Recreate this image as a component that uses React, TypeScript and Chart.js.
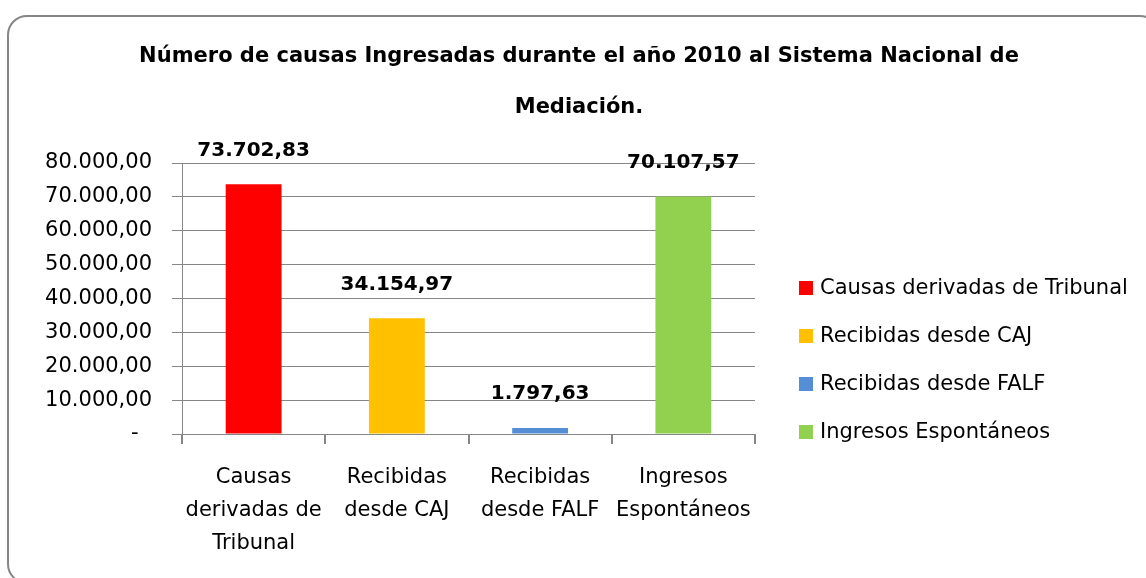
import React, { useEffect, useRef } from "react";
import { Chart, registerables } from "chart.js";

Chart.register(...registerables);

const titleLines = [
  "Número de causas Ingresadas durante el año 2010 al Sistema Nacional de",
  "Mediación.",
];
const categories = [
  "Causas derivadas de Tribunal",
  "Recibidas desde CAJ",
  "Recibidas desde FALF",
  "Ingresos Espontáneos",
];
const tickLabels = [
  ["Causas", "derivadas de", "Tribunal"],
  ["Recibidas", "desde CAJ"],
  ["Recibidas", "desde FALF"],
  ["Ingresos", "Espontáneos"],
];
const values = [73702.83, 34154.97, 1797.63, 70107.57];
const barColors = ["#FF0000", "#FFC000", "#558ED5", "#92D050"];
const yMin = 0;
const yMax = 80000;
const yStep = 10000;

const FONT = "'DejaVu Sans', sans-serif";

function fmt(v: number): string {
  const [i, d] = Math.abs(v).toFixed(2).split(".");
  return i.replace(/\B(?=(\d{3})+(?!\d))/g, ".") + "," + d;
}

const dataLabelPlugin = {
  id: "dataLabels",
  afterDatasetsDraw(chart: any) {
    const { ctx } = chart;
    const meta = chart.getDatasetMeta(0);
    const ds = chart.data.datasets[0].data as number[];
    ctx.save();
    ctx.font = `bold 20px ${FONT}`;
    ctx.fillStyle = "#000";
    ctx.textAlign = "center";
    ctx.textBaseline = "middle";
    meta.data.forEach((bar: any, i: number) => {
      ctx.fillText(fmt(ds[i]), bar.x, bar.y - 34);
    });
    ctx.restore();
  },
};

const sideLegendPlugin = {
  id: "sideLegend",
  afterDraw(chart: any) {
    const { ctx, chartArea } = chart;
    const x = chartArea.right + 44;
    const rowGap = 48;
    const centerY = 360;
    const n = categories.length;
    ctx.save();
    ctx.font = `21px ${FONT}`;
    ctx.textAlign = "left";
    ctx.textBaseline = "middle";
    categories.forEach((c, i) => {
      const y = centerY + (i - (n - 1) / 2) * rowGap;
      ctx.fillStyle = barColors[i];
      ctx.fillRect(x, y - 7, 14, 14);
      ctx.fillStyle = "#000";
      ctx.fillText(c, x + 21, y + 1);
    });
    ctx.restore();
  },
};

export default function App() {
  const ref = useRef<HTMLCanvasElement | null>(null);

  useEffect(() => {
    if (!ref.current) return;
    Chart.defaults.font.family = FONT;
    Chart.defaults.color = "#000";
    const chart = new Chart(ref.current, {
      type: "bar",
      data: {
        labels: tickLabels as any,
        datasets: [
          {
            label: "Causas",
            data: values,
            backgroundColor: barColors,
            borderWidth: 0,
            barPercentage: 0.39,
            categoryPercentage: 1,
          },
        ],
      },
      options: {
        responsive: false,
        animation: false,
        devicePixelRatio: 1,
        layout: { padding: { left: 12, right: 0, top: 0, bottom: 0 } },
        plugins: {
          legend: { display: false },
          tooltip: { enabled: false },
          title: {
            display: true,
            text: titleLines,
            color: "#000",
            font: { family: FONT, size: 21, weight: "bold", lineHeight: 51 / 21 },
            padding: { top: 31.5, bottom: 29.5 },
          },
        },
        scales: {
          x: {
            grid: {
              display: true,
              drawOnChartArea: false,
              drawTicks: true,
              tickLength: 10,
              color: "#868686",
              lineWidth: 2,
              offset: true,
            },
            border: { display: true, color: "#868686", width: 1 },
            ticks: {
              padding: 17,
              color: "#000",
              font: { family: FONT, size: 21, lineHeight: 33 / 21 },
              maxRotation: 0,
              autoSkip: false,
            },
            afterFit: (s: any) => {
              s.height = 144;
            },
          },
          y: {
            min: yMin,
            max: yMax,
            ticks: {
              stepSize: yStep,
              padding: 20,
              color: "#000",
              font: { family: FONT, size: 21 },
              callback: (v: any) => (Number(v) === 0 ? "-  " : fmt(Number(v))),
            },
            grid: { color: "#868686", tickLength: 10, drawTicks: true, lineWidth: 1 },
            border: { display: true, color: "#868686", width: 1 },
            afterFit: (s: any) => {
              s.width = 170;
            },
          },
          yR: {
            position: "right",
            display: true,
            grid: { display: false },
            border: { display: false },
            ticks: { display: false },
            afterFit: (s: any) => {
              s.width = 391;
            },
          },
        },
      } as any,
      plugins: [dataLabelPlugin, sideLegendPlugin],
    });
    return () => chart.destroy();
  }, []);

  return (
    <div
      style={{
        position: "fixed",
        left: 0,
        top: 0,
        width: 1146,
        height: 578,
        overflow: "hidden",
        background: "#fff",
      }}
    >
      <div
        style={{
          position: "absolute",
          left: 7,
          top: 15,
          width: 1153,
          height: 569,
          border: "2px solid #868686",
          borderRadius: 20,
          boxSizing: "border-box",
        }}
      />
      <canvas
        ref={ref}
        width={1146}
        height={578}
        style={{ position: "absolute", left: 0, top: 0, width: 1146, height: 578 }}
      />
    </div>
  );
}
